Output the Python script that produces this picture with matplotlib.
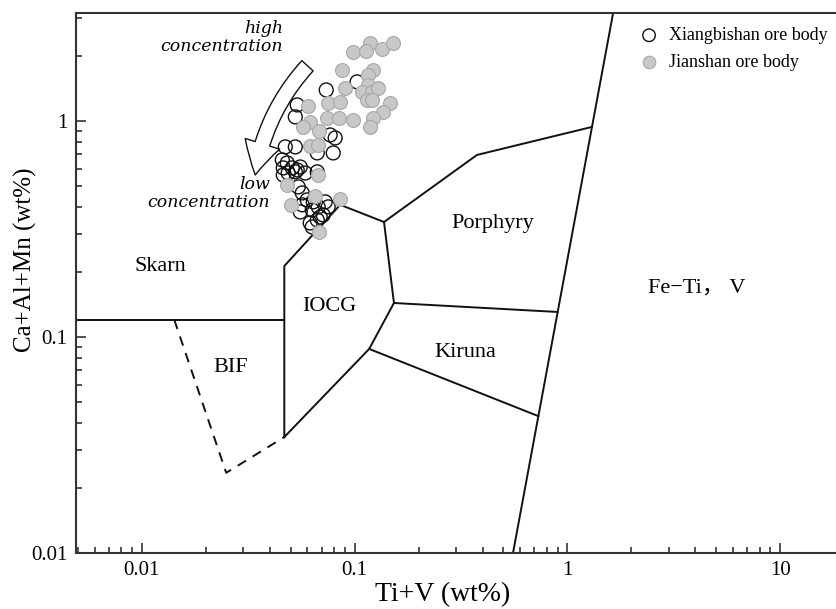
import matplotlib.pyplot as plt
from matplotlib.patches import FancyArrowPatch
from matplotlib.ticker import NullFormatter

plt.rcParams['font.family'] = ['Liberation Serif', 'Noto Sans CJK SC']

# Xiangbishan ore body (open circles)
xb_tiv = [0.1027, 0.0735, 0.0537, 0.0526, 0.0767, 0.0810, 0.0793, 0.0667,
          0.0472, 0.0526, 0.0457, 0.0482, 0.0462, 0.0509, 0.0537, 0.0487,
          0.0526, 0.0555, 0.0462, 0.0586, 0.0667, 0.0543, 0.0567, 0.0598,
          0.0567, 0.0727, 0.0751, 0.0639, 0.0555, 0.0689, 0.0667, 0.0632,
          0.0618, 0.0674, 0.0632, 0.0711]
xb_caalmn = [1.516, 1.391, 1.186, 1.044, 0.861, 0.834, 0.711, 0.711,
             0.758, 0.758, 0.660, 0.639, 0.606, 0.606, 0.593, 0.574,
             0.581, 0.612, 0.562, 0.574, 0.581, 0.495, 0.464, 0.431,
             0.409, 0.422, 0.400, 0.422, 0.379, 0.359, 0.348, 0.323,
             0.337, 0.400, 0.387, 0.367]

# Jianshan ore body (grey circles)
js_tiv = [0.1182, 0.1347, 0.1517, 0.0984, 0.1132, 0.0874, 0.1221, 0.1157,
          0.1157, 0.0903, 0.1084, 0.1208, 0.1289, 0.1145, 0.1208, 0.1469,
          0.0751, 0.0855, 0.0605, 0.1361, 0.1221, 0.0743, 0.0846, 0.0984,
          0.1182, 0.0618, 0.0573, 0.0681, 0.0618, 0.0674, 0.0674, 0.0482,
          0.0503, 0.0653, 0.0855, 0.0681]
js_caalmn = [2.297, 2.154, 2.297, 2.086, 2.109, 1.722, 1.722, 1.633,
             1.468, 1.421, 1.362, 1.362, 1.421, 1.251, 1.251, 1.212,
             1.212, 1.224, 1.173, 1.101, 1.033, 1.033, 1.033, 1.011,
             0.938, 0.989, 0.938, 0.899, 0.766, 0.774, 0.562, 0.505,
             0.409, 0.450, 0.435, 0.306]

# field boundaries (Ti+V, Ca+Al+Mn)
skarn_x, skarn_y = [0.0049, 0.0467], [0.12, 0.12]
bif_x, bif_y = [0.0142, 0.0249, 0.0467], [0.12, 0.0235, 0.0344]
iocg_x = [0.0467, 0.0467, 0.0855, 0.1374, 0.153, 0.117, 0.0467]
iocg_y = [0.0344, 0.213, 0.409, 0.3405, 0.1436, 0.088, 0.0344]
porph_x, porph_y = [0.1374, 0.376, 1.305], [0.3405, 0.696, 0.938]
porph_bot_x, porph_bot_y = [0.153, 0.90], [0.1436, 0.1305]
kiruna_x, kiruna_y = [0.117, 0.73], [0.088, 0.043]
feti_x, feti_y = [1.64, 0.555], [3.16, 0.01]

field_names = ['Skarn', 'BIF', 'IOCG', 'Porphyry', 'Kiruna', 'Fe−Ti， V']
field_x = [0.0122, 0.026, 0.0759, 0.447, 0.330, 2.39]
field_y = [0.211, 0.0719, 0.1377, 0.334, 0.0843, 0.169]

fig = plt.figure(figsize=(8.37, 6.09), dpi=100)
ax = fig.add_axes([0.0908, 0.092, 0.9092, 0.8867])
ax.set_xscale('log')
ax.set_yscale('log')
ax.set_xlim(0.0049, 18.5)
ax.set_ylim(0.01, 3.16)

line_kw = dict(color='#111111', lw=1.4)
ax.plot(skarn_x, skarn_y, **line_kw)
ax.plot(bif_x, bif_y, ls=(0, (5, 4)), **line_kw)
ax.plot(iocg_x, iocg_y, **line_kw)
ax.plot(porph_x, porph_y, **line_kw)
ax.plot(porph_bot_x, porph_bot_y, **line_kw)
ax.plot(kiruna_x, kiruna_y, **line_kw)
ax.plot(feti_x, feti_y, **line_kw)

for name, x, y in zip(field_names, field_x, field_y):
    ha = 'left' if name.startswith('Fe') else 'center'
    ax.text(x, y, name, fontsize=16, ha=ha, va='center')

ax.scatter(xb_tiv, xb_caalmn, s=100, facecolor='none', edgecolor='#111111',
           linewidth=1.0, label='Xiangbishan ore body', zorder=3)
ax.scatter(js_tiv, js_caalmn, s=100, facecolor='#c8c8c8', edgecolor='#a8a8a8',
           linewidth=0.8, label='Jianshan ore body', zorder=3)

# concentration trend arrow
arrow = FancyArrowPatch((0.0600, 1.80), (0.0341, 0.562),
                        connectionstyle='arc3,rad=0.15',
                        arrowstyle='simple,head_length=2.3,head_width=2.6,tail_width=1.1',
                        mutation_scale=10, facecolor='white', edgecolor='#111111',
                        linewidth=1.0, shrinkA=0, shrinkB=0, zorder=2)
ax.add_patch(arrow)
ax.text(0.0462, 2.935, 'high\nconcentration', family='DejaVu Serif', style='italic',
        fontsize=12.5, ha='right', va='top', multialignment='right', linespacing=1.1)
ax.text(0.0401, 0.556, 'low\nconcentration', family='DejaVu Serif', style='italic',
        fontsize=12.5, ha='right', va='top', multialignment='right', linespacing=1.1)

ax.legend(loc='upper left', bbox_to_anchor=(640 / 837, 1 - 27 / 609),
          bbox_transform=fig.transFigure, frameon=False, fontsize=13,
          borderpad=0, borderaxespad=0, handlelength=1.0, handletextpad=0.6,
          labelspacing=0.55, markerscale=0.9)

ax.set_xticks([0.01, 0.1, 1, 10], labels=['0.01', '0.1', '1', '10'])
ax.set_yticks([0.01, 0.1, 1], labels=['0.01', '0.1', '1'])
ax.xaxis.set_minor_formatter(NullFormatter())
ax.yaxis.set_minor_formatter(NullFormatter())
ax.tick_params(which='both', direction='in', top=False, right=False,
               color='#333333', width=1.2, labelsize=15, pad=6)
ax.tick_params(which='major', length=7)
ax.tick_params(which='minor', length=4)
ax.spines['right'].set_visible(False)
for side in ['left', 'bottom', 'top']:
    ax.spines[side].set_color('#333333')
    ax.spines[side].set_linewidth(1.5)

ax.set_xlabel('Ti+V (wt%)', fontsize=20, va='center')
ax.set_ylabel('Ca+Al+Mn (wt%)', fontsize=18, va='center')
ax.xaxis.set_label_coords(0.482, -0.078)
ax.yaxis.set_label_coords(-0.066, 0.543)

fig.savefig('out.png', dpi=100)
